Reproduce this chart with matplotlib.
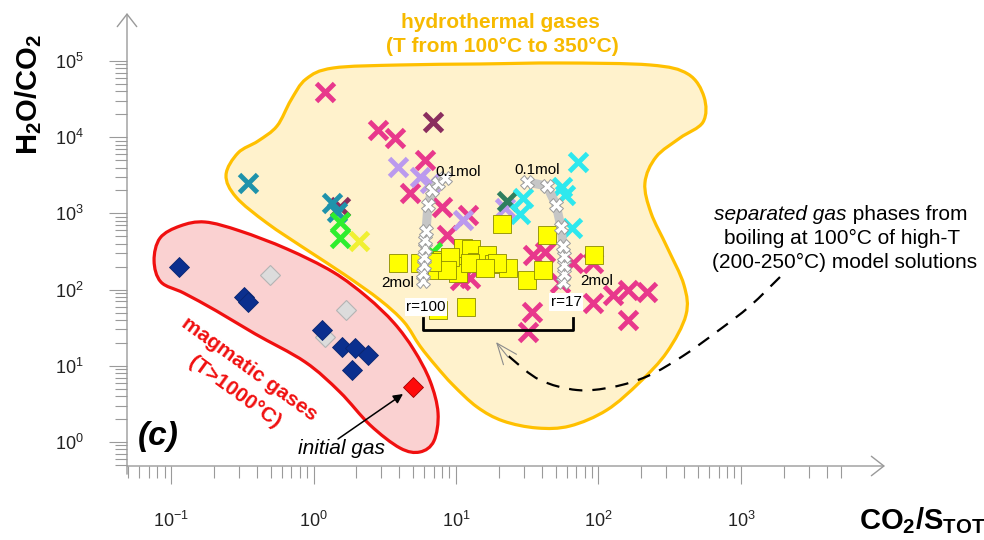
import numpy as np
import matplotlib
matplotlib.use('Agg')
import matplotlib.pyplot as plt
from matplotlib.path import Path
from matplotlib.patches import PathPatch
from matplotlib.ticker import FixedLocator, LogFormatterMathtext, NullFormatter

plt.rcParams['font.family'] = ['Liberation Sans', 'DejaVu Sans']
plt.rcParams['mathtext.fontset'] = 'custom'
plt.rcParams['mathtext.rm'] = 'Liberation Sans'
plt.rcParams['mathtext.it'] = 'Liberation Sans:italic'
plt.rcParams['mathtext.bf'] = 'Liberation Sans:bold'

# magmatic gases (CO2/Stot, H2O/CO2)
magm_x = [0.113, 0.325, 0.347, 1.14, 1.58, 1.95, 2.42, 1.85]
magm_y = [200, 80, 69, 29.5, 17.8, 17.0, 13.9, 8.8]
magm_grey_x = [0.495, 1.69, 1.20]
magm_grey_y = [155, 54, 23.9]
initial_x = [4.97]
initial_y = [5.32]

# hydrothermal gases, one list per group
pink_x = [1.20, 2.84, 3.73, 6.06, 4.75, 7.93, 8.60, 12.2, 34.8, 42.2, 91.9, 66.5,
          91.9, 127, 162, 218, 162, 34.0, 32.1, 53.7, 12.5, 10.7]
pink_y = [39500, 12400, 9680, 5020, 1835, 1225, 521, 953, 284, 314, 221, 221,
          66.1, 85.0, 98.8, 93.9, 39.9, 51.3, 28.0, 122, 142, 134]
maroon_x = [6.92, 1.53]
maroon_y = [15970, 1225]
teal_x = [0.348, 1.34, 1.46]
teal_y = [2483, 1357, 1052]
green_x = [1.53, 1.53, 6.76]
green_y = [778, 471, 314]
yellowx_x = [2.10]
yellowx_y = [438]
lav_x = [3.93, 5.59, 6.58, 11.2, 22.1]
lav_y = [4100, 3030, 2505, 819, 1178]
cyan_x = [72.2, 55.2, 58.2, 29.6, 28.1, 64.9]
cyan_y = [4770, 2240, 1743, 1578, 982, 637]
dkgreen_x = [22.7]
dkgreen_y = [1455]
sq_x = [3.92, 5.59, 7.36, 7.98, 9.37, 11.2, 12.8, 10.3, 14.1, 16.5, 18.5, 23.2, 31.5,
        40.8, 43.5, 21.0, 92.9, 11.8, 7.48, 9.08, 12.5, 19.4, 16.0, 8.64, 6.79]
sq_y = [223, 223, 181, 245, 230, 351, 341, 165, 230, 284, 217, 192, 134,
        181, 521, 726, 284, 59.1, 54.0, 268, 223, 223, 192, 181, 230]

# boiling model paths (r=100 and r=17), 2mol -> 0.1mol
modL_x = [5.86, 5.86, 5.97, 5.97, 6.06, 6.06, 6.16, 6.36, 6.79, 7.48, 8.37]
modL_y = [130, 165, 210, 268, 351, 448, 587, 1290, 2030, 2505, 2915]
modR_x = [56.4, 57.3, 57.3, 57.3, 56.4, 54.6, 50.4, 43.5, 31.5]
modR_y = [126, 160, 210, 276, 373, 663, 1290, 2290, 2582]
bracket_x = [5.90, 66.5]
bracket_y = [29.5, 42.4]

# field outlines, log10 units
hydro_lx = [-0.614, -0.530, -0.389, -0.256, -0.158, -0.052, 0.137, 0.607, 1.168, 1.730,
            2.362, 2.628, 2.741, 2.734, 2.572, 2.404, 2.326, 2.369, 2.481, 2.600, 2.614,
            2.481, 2.291, 2.059, 1.800, 1.569, 1.330, 1.148, 0.979, 0.860, 0.747, 0.635,
            0.466, 0.221, -0.046, -0.327, -0.544]
hydro_ly = [3.504, 3.793, 3.950, 4.147, 4.488, 4.764, 4.908, 4.948, 4.961, 4.974,
            4.948, 4.829, 4.528, 4.199, 3.990, 3.740, 3.399, 3.005, 2.559, 2.060, 1.667,
            1.181, 0.787, 0.420, 0.210, 0.184, 0.276, 0.459, 0.748, 0.997, 1.260, 1.575,
            1.864, 2.192, 2.520, 2.874, 3.215]
magm_lx = [-1.077, -0.936, -0.761, -0.515, -0.186, 0.137, 0.375, 0.565, 0.705, 0.818,
           0.874, 0.845, 0.747, 0.607, 0.397, 0.185, -0.059, -0.411, -0.681, -0.911,
           -1.071, -1.119]
magm_ly = [2.677, 2.835, 2.887, 2.769, 2.533, 2.231, 1.903, 1.562, 1.207, 0.801,
           0.381, 0.013, -0.131, -0.079, 0.223, 0.656, 1.050, 1.420, 1.720, 1.955,
           2.100, 2.380]
dash_lx = [3.274, 3.064, 2.838, 2.593, 2.347, 2.101, 1.849, 1.589, 1.393, 1.323]
dash_ly = [2.165, 1.785, 1.457, 1.129, 0.866, 0.722, 0.682, 0.814, 1.089, 1.220]

AXC = '#9a9a9a'
W, H = 984, 540


def fpos(x, y):
    return (x / W, 1 - y / H)


def smooth_path(lx, ly, closed=True):
    p = np.column_stack([lx, ly])
    n = len(p)
    if closed:
        idx = lambda i: i % n
        segs = range(n)
    else:
        idx = lambda i: min(max(i, 0), n - 1)
        segs = range(n - 1)
    verts = [p[0]]
    codes = [Path.MOVETO]
    for i in segs:
        p0, p1, p2, p3 = p[idx(i - 1)], p[idx(i)], p[idx(i + 1)], p[idx(i + 2)]
        verts += [p1 + (p2 - p0) / 6, p2 - (p3 - p1) / 6, p2]
        codes += [Path.CURVE4] * 3
    if closed:
        verts.append(p[0])
        codes.append(Path.CLOSEPOLY)
    return Path(10 ** np.array(verts), codes)


fig = plt.figure(figsize=(W / 100, H / 100), dpi=100)
ax = fig.add_axes([127 / W, 74 / H, 758 / W, 453 / H])
ax.set_xscale('log')
ax.set_yscale('log')
ax.set_xlim(10 ** -1.309, 10 ** 4.011)
ax.set_ylim(10 ** -0.315, 10 ** 5.63)
for s in ax.spines.values():
    s.set_visible(False)
ax.patch.set_alpha(0)

ax.xaxis.set_major_locator(FixedLocator([0.1, 1, 10, 100, 1000]))
ax.xaxis.set_minor_locator(FixedLocator(
    [m * 10.0 ** e for e in range(-2, 4) for m in range(2, 10) if m * 10.0 ** e <= 5000]))
ax.yaxis.set_major_locator(FixedLocator([1, 10, 100, 1e3, 1e4, 1e5]))
ax.yaxis.set_minor_locator(FixedLocator(
    [m * 10.0 ** e for e in range(-1, 5) for m in range(2, 10)]))
for a in (ax.xaxis, ax.yaxis):
    a.set_major_formatter(LogFormatterMathtext())
    a.set_minor_formatter(NullFormatter())
ax.tick_params(which='both', direction='out', color=AXC, width=0.8, labelcolor='#222222',
               labelsize=13)
ax.tick_params(which='major', length=13)
ax.tick_params(which='minor', length=8.5)
ax.tick_params(axis='x', which='major', pad=19)
ax.tick_params(axis='y', which='major', pad=18)

ahead = dict(arrowstyle='->,head_length=0.45,head_width=0.35', color=AXC, lw=1,
             shrinkA=0, shrinkB=0, mutation_scale=20)
ax.annotate('', xy=(1, 0), xytext=(0, 0), xycoords='axes fraction', arrowprops=ahead)
ax.annotate('', xy=(0, 1), xytext=(0, -0.018), xycoords='axes fraction', arrowprops=ahead)

# fields
ax.add_patch(PathPatch(smooth_path(hydro_lx, hydro_ly), fc='#FFF2CC', ec='#FFC000',
                       lw=2.3, zorder=1))
ax.add_patch(PathPatch(smooth_path(magm_lx, magm_ly), fc='#FAD1D1', ec='#F01010',
                       lw=2.3, zorder=1.5))
ax.add_patch(PathPatch(smooth_path(dash_lx, dash_ly, closed=False), fill=False, ec='black',
                       lw=1.6, ls=(0, (6, 4.5)), zorder=2))
ax.annotate('', xy=(19.1, 20.5), xytext=(23.2, 13.0),
            arrowprops=dict(arrowstyle='->,head_length=0.75,head_width=0.3', color='#8c8c8c',
                            lw=0.8, shrinkA=0, shrinkB=0, mutation_scale=20), zorder=2)

# magmatic diamonds
dkw = dict(ls='none', marker='D', ms=10.5, zorder=3)
ax.plot(magm_grey_x, magm_grey_y, mfc='#DCDCDC', mec='#B4B4B4', mew=0.8, **dkw)
ax.plot(magm_x, magm_y, mfc='#0B2F8E', mec='#0A2570', mew=0.6, **dkw)
ax.plot(initial_x, initial_y, mfc='#FF0A0A', mec='#A00000', mew=0.6, **dkw)

# hydrothermal crosses
xkw = dict(ls='none', marker='x', ms=13, mew=3.5, zorder=3)
ax.plot(pink_x, pink_y, color='#E8388C', **xkw)
ax.plot(maroon_x, maroon_y, color='#8A2E5E', **xkw)
ax.plot(teal_x, teal_y, color='#1F93AB', **xkw)
ax.plot(green_x, green_y, color='#2EEE2E', **xkw)
ax.plot(yellowx_x, yellowx_y, color='#F0F032', **xkw)
ax.plot(lav_x, lav_y, color='#BB9AEE', **xkw)
ax.plot(dkgreen_x, dkgreen_y, color='#2E7F5E', **xkw)
ax.plot(cyan_x, cyan_y, color='#2EE8EE', **xkw)
ax.plot(sq_x, sq_y, 's', ms=13.5, mfc='#FFFF00', mec='#8C8C00', mew=0.6, zorder=4)

# model paths
for mx, my in ((modL_x, modL_y), (modR_x, modR_y)):
    ax.plot(mx, my, color='#C6C6C6', lw=6.5, solid_capstyle='round', zorder=5)
    ax.plot(mx, my, 'X', ms=9.5, mfc='white', mec='#9A9A9A', mew=0.7, zorder=5.5)
ax.plot([bracket_x[0], bracket_x[0], bracket_x[1], bracket_x[1]],
        [bracket_y[1], bracket_y[0], bracket_y[0], bracket_y[1]], color='black', lw=2,
        zorder=6)

lbl = dict(fontsize=11, ha='center', va='center', zorder=7)
fig.text(*fpos(458, 172), '0.1mol', **lbl)
fig.text(*fpos(537, 170), '0.1mol', **lbl)
fig.text(*fpos(398, 283), '2mol', **lbl)
fig.text(*fpos(597, 281), '2mol', **lbl)
box = dict(facecolor='white', edgecolor='none', pad=1.2)
fig.text(*fpos(426, 307), 'r=100', bbox=box, **lbl)
fig.text(*fpos(566, 302), 'r=17', bbox=box, **lbl)

# annotations
gold = '#F7BA00'
fig.text(*fpos(500, 22), 'hydrothermal gases', color=gold, fontsize=15, fontweight='bold',
         ha='center', va='center')
fig.text(*fpos(502, 46), '(T from 100°C to 350°C)', color=gold, fontsize=15,
         fontweight='bold', ha='center', va='center')
red = '#F01010'
fig.text(*fpos(249, 369), 'magmatic gases', color=red, fontsize=15, fontweight='bold',
         ha='center', va='center', rotation=-36, rotation_mode='anchor')
fig.text(*fpos(235, 392), '(T>1000°C)', color=red, fontsize=15, fontweight='bold',
         ha='center', va='center', rotation=-36, rotation_mode='anchor')
fig.text(*fpos(158, 437), '(c)', fontsize=24, fontweight='bold', fontstyle='italic',
         ha='center', va='center')
fig.text(*fpos(342, 449), 'initial gas', fontsize=15, fontstyle='italic', ha='center',
         va='center')
ax.annotate('', xy=fpos(403, 394), xytext=fpos(338, 439), xycoords='figure fraction',
            arrowprops=dict(arrowstyle='-|>', color='black', lw=1.1, mutation_scale=14,
                            shrinkA=0, shrinkB=0))
fig.text(*fpos(847, 215), 'separated gas', fontsize=15, fontstyle='italic', ha='right',
         va='center')
fig.text(*fpos(847, 215), ' phases from', fontsize=15, ha='left', va='center')
fig.text(*fpos(842, 238), 'boiling at 100°C of high-T', fontsize=15, ha='center',
         va='center')
fig.text(*fpos(845, 262), '(200-250°C) model solutions', fontsize=15, ha='center',
         va='center')

fig.text(*fpos(29, 95), r'$\mathbf{H_2O/CO_2}$', fontsize=21, rotation=90, ha='center',
         va='center')
fig.text(*fpos(922, 521), r'$\mathbf{CO_2/S_{TOT}}$', fontsize=21, ha='center',
         va='center')

fig.savefig('out.png', dpi=100)
